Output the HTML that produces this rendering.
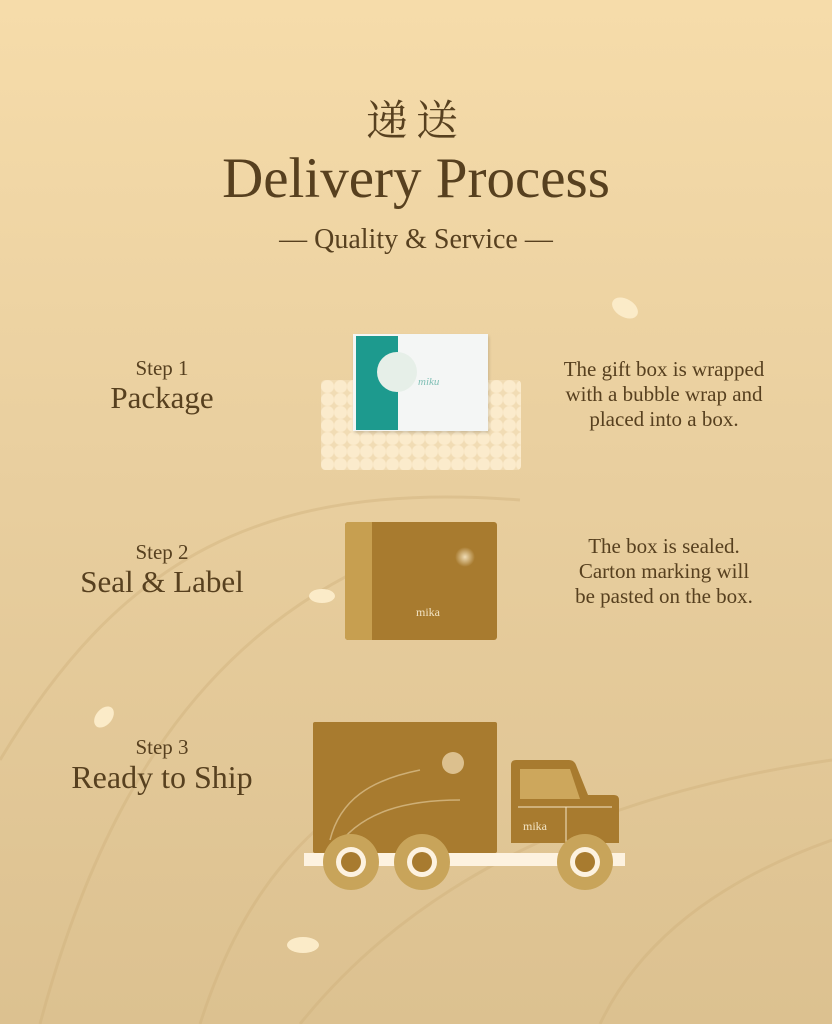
<!DOCTYPE html>
<html><head><meta charset="utf-8"><style>
body{margin:0;width:832px;height:1024px;overflow:hidden;background:linear-gradient(#f6dcaa,#e9cf9f 45%,#dcc190);font-family:"Liberation Serif","Noto Serif CJK SC",serif;color:#57401f;position:relative}
.a{position:absolute;text-align:center;white-space:nowrap}
</style></head><body>
<svg width="832" height="1024" style="position:absolute;left:0;top:0" fill="none" stroke="#cfb07a" stroke-width="3" opacity=".4">
<path d="M0 760 C120 560 260 480 520 500"/><path d="M40 1024 C100 800 200 640 380 560"/><path d="M300 1024 C400 900 560 800 832 760"/><path d="M200 1024 C240 900 300 820 420 760"/><path d="M600 1024 C640 940 720 880 832 840"/>
</svg>
<div class="a" style="left:0;width:832px;top:88px;font-size:42px;font-family:'Noto Serif CJK SC',serif;letter-spacing:8px">递送</div>
<div class="a" style="left:0;width:832px;top:146px;font-size:57px">Delivery Process</div>
<div class="a" style="left:0;width:832px;top:224px;font-size:28px">— Quality &amp; Service —</div>

<div class="a" style="left:60px;width:204px;top:356px;font-size:21px">Step 1</div>
<div class="a" style="left:60px;width:204px;top:380px;font-size:31px">Package</div>
<div class="a" style="left:60px;width:204px;top:540px;font-size:21px">Step 2</div>
<div class="a" style="left:60px;width:204px;top:564px;font-size:31px">Seal &amp; Label</div>
<div class="a" style="left:60px;width:204px;top:735px;font-size:21px">Step 3</div>
<div class="a" style="left:60px;width:204px;top:759px;font-size:32px">Ready to Ship</div>

<div class="a" style="left:539px;width:250px;top:357px;font-size:21px;line-height:25px">The gift box is wrapped<br>with a bubble wrap and<br>placed into a box.</div>
<div class="a" style="left:539px;width:250px;top:534px;font-size:21px;line-height:25px">The box is sealed.<br>Carton marking will<br>be pasted on the box.</div>

<div style="position:absolute;left:321px;top:380px;width:200px;height:90px;background:radial-gradient(circle,#fbebcc 6px,#f1dcb4 7px) 0 0/13px 13px;border-radius:4px"></div>
<div style="position:absolute;left:353px;top:334px;width:135px;height:97px;background:#f4f6f5;box-shadow:1px 2px 3px rgba(0,0,0,.15)"></div>
<div style="position:absolute;left:356px;top:336px;width:42px;height:94px;background:#1d9a8e"></div>
<div style="position:absolute;left:377px;top:352px;width:40px;height:40px;border-radius:50%;background:#e6efe8"></div>
<div style="position:absolute;left:418px;top:376px;font-size:11px;color:#7fbfb5;font-style:italic">miku</div>

<div style="position:absolute;left:345px;top:522px;width:152px;height:118px;background:#a87b2f;border-radius:3px"></div>
<div style="position:absolute;left:345px;top:522px;width:27px;height:118px;background:#c79f50;border-radius:3px 0 0 3px"></div>
<div style="position:absolute;left:455px;top:547px;width:20px;height:20px;border-radius:50%;background:radial-gradient(#efdcb5,rgba(239,220,181,0) 70%)"></div>
<div style="position:absolute;left:416px;top:605px;font-size:12px;color:#f3e4c4">mika</div>

<svg width="832" height="1024" style="position:absolute;left:0;top:0">
<rect x="313" y="722" width="184" height="131" rx="2" fill="#a87b2f"/>
<circle cx="453" cy="763" r="11" fill="#e8d2a6" opacity=".8"/>
<path d="M330 840 C340 800 370 780 420 770 M335 850 C360 810 410 800 460 800" stroke="#e8d2a6" stroke-width="1.5" fill="none" opacity=".6"/>
<rect x="304" y="853" width="321" height="13" fill="#fdf2e0"/>
<path d="M511 765 q0-5 5-5 h53 q5 0 7 5 l12 30 h26 q5 0 5 5 v43 h-108z" fill="#a87b2f"/>
<path d="M520 769 h50 l10 30 h-60z" fill="#cda75c"/>
<line x1="518" y1="807" x2="612" y2="807" stroke="#f3e4c4" stroke-width="1"/>
<line x1="566" y1="807" x2="566" y2="843" stroke="#f3e4c4" stroke-width="1"/>
<text x="523" y="830" font-size="12" fill="#f3e4c4" font-family="Liberation Serif">mika</text>
<g fill="#c8a45a"><circle cx="351" cy="862" r="28"/><circle cx="422" cy="862" r="28"/><circle cx="585" cy="862" r="28"/></g>
<g fill="#fdf2e0"><circle cx="351" cy="862" r="15"/><circle cx="422" cy="862" r="15"/><circle cx="585" cy="862" r="15"/></g>
<g fill="#a87b2f"><circle cx="351" cy="862" r="10"/><circle cx="422" cy="862" r="10"/><circle cx="585" cy="862" r="10"/></g>
<g fill="#fbebc8"><ellipse cx="625" cy="308" rx="14" ry="9" transform="rotate(30 625 308)"/><ellipse cx="322" cy="596" rx="13" ry="7"/><ellipse cx="104" cy="717" rx="8" ry="12" transform="rotate(40 104 717)"/><ellipse cx="303" cy="945" rx="16" ry="8"/></g>
</svg>
</body></html>
